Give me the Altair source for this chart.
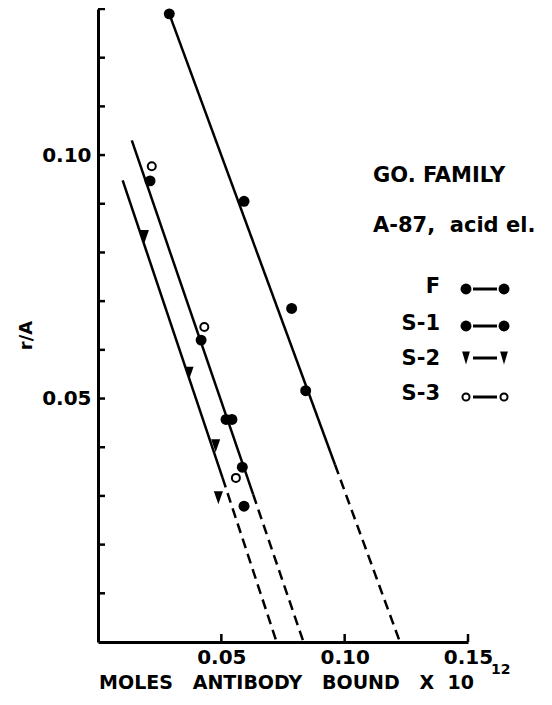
import altair as alt
import pandas as pd

# ---------------- data ----------------
f_x = [0.0289, 0.0592, 0.0785, 0.0842]
f_y = [0.1290, 0.0905, 0.0685, 0.0516]
s1_x = [0.0211, 0.0418, 0.0519, 0.0543, 0.0585, 0.0592]
s1_y = [0.0947, 0.0620, 0.0457, 0.0457, 0.0359, 0.0279]
s2_x = [0.0188, 0.0369, 0.0477, 0.0488]
s2_y = [0.0833, 0.0552, 0.0403, 0.0296]
s3_x = [0.0218, 0.0431, 0.0559]
s3_y = [0.0977, 0.0647, 0.0337]

# fitted lines: solid part from start to solid end, dashed extrapolation to the x-axis
line_series = ["F", "S-1", "S-2"]
line_x0 = [0.0289, 0.0137, 0.0100]
line_y0 = [0.1290, 0.1030, 0.0948]
solid_end_x = [0.0961, 0.0629, 0.0505]
solid_end_y = [0.0364, 0.0303, 0.0337]
intercept_x = [0.1224, 0.0833, 0.0724]
intercept_y = [0.0, 0.0, 0.0]

x_tick_values = [0.05, 0.10, 0.15]
y_tick_values = [0.01, 0.02, 0.03, 0.04, 0.05, 0.06, 0.07, 0.08, 0.09, 0.10, 0.11, 0.12, 0.13]
y_label_values = [0.05, 0.10]

x_title = "MOLES\u00a0\u00a0 ANTIBODY\u00a0\u00a0 BOUND\u00a0\u00a0 X\u00a0 10"
x_title_sup = "12"
y_title = "r/A"
legend_title = ["GO. FAMILY", "A-87,\u00a0 acid el."]
legend_labels = ["F", "S-1", "S-2", "S-3"]

# ---------------- layout ----------------
W, H = 370, 633
FONT = "DejaVu Sans"
INK = "black"

xscale = alt.Scale(domain=[0, 0.15], nice=False, zero=False)
yscale = alt.Scale(domain=[0, 0.13], nice=False, zero=False)

x_axis = alt.Axis(
    values=x_tick_values, format=".2f", ticks=False, tickSize=0, grid=False,
    domainWidth=3, domainColor=INK, labelFont=FONT, labelFontSize=20,
    labelFontWeight="bold", labelColor=INK, labelPadding=5, labelFlush=False,
    title=x_title, titleFont=FONT, titleFontSize=19, titleFontWeight="bold",
    titleColor=INK, titleX=188, titleY=40, titleBaseline="middle", titleAlign="center",
)
y_axis = alt.Axis(
    values=y_label_values, format=".2f", ticks=False, tickSize=0, grid=False,
    domainWidth=3, domainColor=INK, labelFont=FONT, labelFontSize=20,
    labelFontWeight="bold", labelColor=INK, labelPadding=7, labelFlush=False,
    title=y_title, titleFont=FONT, titleFontSize=18, titleFontWeight="bold",
    titleColor=INK, titleX=-72, titleY=326, titleAngle=270,
    titleBaseline="middle", titleAlign="center",
)

X = alt.X("x:Q", scale=xscale, axis=x_axis)
Y = alt.Y("y:Q", scale=yscale, axis=y_axis)

# ---------------- tables built from the arrays ----------------
solid_rows, dash_rows = [], []
for i, s in enumerate(line_series):
    solid_rows += [
        {"series": s, "ord": 0, "x": line_x0[i], "y": line_y0[i]},
        {"series": s, "ord": 1, "x": solid_end_x[i], "y": solid_end_y[i]},
    ]
    dash_rows += [
        {"series": s, "ord": 0, "x": solid_end_x[i], "y": solid_end_y[i]},
        {"series": s, "ord": 1, "x": intercept_x[i], "y": intercept_y[i]},
    ]
solid_df = pd.DataFrame(solid_rows)
dash_df = pd.DataFrame(dash_rows)

filled_df = pd.DataFrame({"x": f_x + s1_x, "y": f_y + s1_y})
tri_df = pd.DataFrame({"x": s2_x, "y": s2_y})
open_df = pd.DataFrame({"x": s3_x, "y": s3_y})

xt_df = pd.DataFrame({"x": x_tick_values})
yt_df = pd.DataFrame({"y": y_tick_values})
one = pd.DataFrame({"k": [0]})

TRI = "M-0.7,-1L0.7,-1L0,1Z"
TRI_LEG = "M-0.6,-1L0.6,-1L0,1Z"

# ---------------- layers ----------------
solid = alt.Chart(solid_df).mark_line(color=INK, strokeWidth=2.5).encode(
    x=X, y=Y, detail="series:N", order="ord:Q")
dashed = alt.Chart(dash_df).mark_line(color=INK, strokeWidth=2.5, strokeDash=[10, 6]).encode(
    x=X, y=Y, detail="series:N", order="ord:Q")

filled = alt.Chart(filled_df).mark_circle(size=120, color=INK, opacity=1).encode(x=X, y=Y)
tris = alt.Chart(tri_df).mark_point(shape=TRI, size=169, filled=True, color=INK, opacity=1).encode(x=X, y=Y)
opens = alt.Chart(open_df).mark_point(
    shape="circle", size=64, filled=True, fill="white", stroke=INK, strokeWidth=2, opacity=1
).encode(x=X, y=Y)

yticks = alt.Chart(yt_df).mark_rule(color=INK, strokeWidth=2.5).encode(
    y=Y, x=alt.value(0), x2=alt.value(7))
xticks = alt.Chart(xt_df).mark_rule(color=INK, strokeWidth=2.5).encode(
    x=X, y=alt.value(H), y2=alt.value(H - 8))

layers = [xticks, yticks, solid, dashed, filled, tris, opens]

# superscript of the x title
layers.append(alt.Chart(one).mark_text(
    text=x_title_sup, font=FONT, fontSize=14, fontWeight="bold", color=INK,
    align="left", baseline="middle").encode(x=alt.value(393), y=alt.value(661)))

# legend block (annotation)
for txt, ty in zip(legend_title, [173, 223]):
    layers.append(alt.Chart(one).mark_text(
        text=txt, font=FONT, fontSize=21, fontWeight="bold", color=INK,
        align="left", baseline="alphabetic").encode(x=alt.value(275), y=alt.value(ty)))

label_base = [284, 321, 356, 391]
sym_y = [280, 317, 349, 388]
for i, lab in enumerate(legend_labels):
    layers.append(alt.Chart(one).mark_text(
        text=lab, font=FONT, fontSize=21, fontWeight="bold", color=INK,
        align="right", baseline="alphabetic").encode(x=alt.value(342), y=alt.value(label_base[i])))
    layers.append(alt.Chart(one).mark_rule(color=INK, strokeWidth=3).encode(
        x=alt.value(375), x2=alt.value(399), y=alt.value(sym_y[i])))
    for sx in (368, 406):
        if i < 2:
            m = alt.Chart(one).mark_circle(size=120, color=INK, opacity=1)
        elif i == 2:
            m = alt.Chart(one).mark_point(shape=TRI_LEG, size=169, filled=True, color=INK, opacity=1)
        else:
            m = alt.Chart(one).mark_point(shape="circle", size=50, filled=True, fill="white",
                                          stroke=INK, strokeWidth=2, opacity=1)
        layers.append(m.encode(x=alt.value(sx), y=alt.value(sym_y[i])))

chart = alt.layer(*layers).properties(
    width=W, height=H,
    autosize=alt.AutoSizeParams(type="none"),
    padding={"left": 90, "top": 1, "right": 76, "bottom": 51},
    background="white",
).configure_view(stroke="transparent")

chart.save("out.html", embed_options={"renderer": "svg", "actions": False})
